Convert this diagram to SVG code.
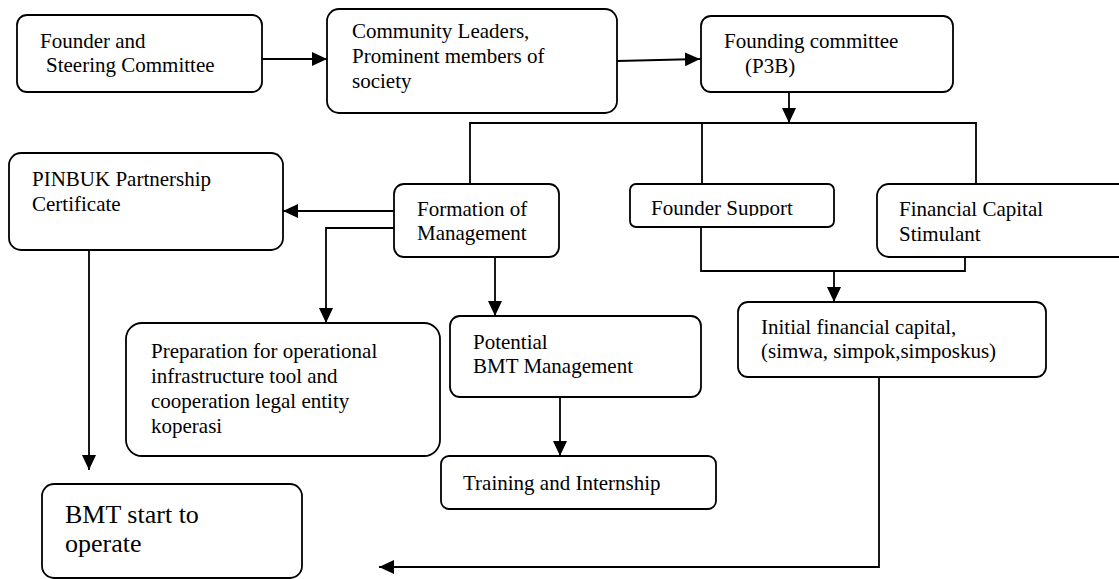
<svg xmlns="http://www.w3.org/2000/svg" width="1119" height="579" viewBox="0 0 1119 579">
<style>
.box{fill:#fff;stroke:#000;stroke-width:1.8}
.t{font-family:"Liberation Serif","Times New Roman",serif;font-size:21px;fill:#000}
.big{font-size:26px}
.c{fill:none;stroke:#000;stroke-width:1.8}
</style>
<defs>
<marker id="ah" markerUnits="userSpaceOnUse" markerWidth="16" markerHeight="16" refX="15" refY="7" orient="auto">
<path d="M0,0 L15,7 L0,14 z" fill="#000"/>
</marker>
<clipPath id="fsclip"><rect x="630" y="184" width="204" height="32"/></clipPath>
</defs>
<rect width="1119" height="579" fill="#fff"/>
<g id="connectors">
<path class="c" d="M262,59 L327,59" marker-end="url(#ah)"/>
<path class="c" d="M617,61 L700,59" marker-end="url(#ah)"/>
<path class="c" d="M789,92 L789,123" marker-end="url(#ah)"/>
<path class="c" d="M470,184 V123 H976 V184 M702,123 V184"/>
<path class="c" d="M394,211 L283,211" marker-end="url(#ah)"/>
<path class="c" d="M394,228 L326,228 L326,323" marker-end="url(#ah)"/>
<path class="c" d="M495,257 L495,316" marker-end="url(#ah)"/>
<path class="c" d="M89,250 L89,470" marker-end="url(#ah)"/>
<path class="c" d="M560,397 L560,456" marker-end="url(#ah)"/>
<path class="c" d="M701,227 V271 H965 V257"/>
<path class="c" d="M834,271 V302" marker-end="url(#ah)"/>
<path class="c" d="M879,377 V567 H379" marker-end="url(#ah)"/>
</g>
<g id="founder">
<rect class="box" x="17" y="15" width="245" height="77" rx="10"/>
<text class="t" x="40" y="48">Founder and</text>
<text class="t" x="46" y="72">Steering Committee</text>
</g>
<g id="community">
<rect class="box" x="327" y="9" width="290" height="104" rx="12"/>
<text class="t" x="352" y="38">Community Leaders,</text>
<text class="t" x="352" y="63">Prominent members of</text>
<text class="t" x="352" y="88">society</text>
</g>
<g id="founding">
<rect class="box" x="701" y="16" width="252" height="76" rx="10"/>
<text class="t" x="724" y="48">Founding committee</text>
<text class="t" x="745" y="73">(P3B)</text>
</g>
<g id="pinbuk">
<rect class="box" x="9" y="153" width="274" height="97" rx="12"/>
<text class="t" x="32" y="186">PINBUK Partnership</text>
<text class="t" x="32" y="211">Certificate</text>
</g>
<g id="formation">
<rect class="box" x="394" y="184" width="165" height="73" rx="10"/>
<text class="t" x="417" y="216">Formation of</text>
<text class="t" x="417" y="240">Management</text>
</g>
<g id="founder-support">
<rect class="box" x="630" y="184" width="204" height="43" rx="6"/>
<text class="t" x="651" y="215" clip-path="url(#fsclip)">Founder Support</text>
</g>
<g id="financial">
<path class="box" d="M1125,184 H889 A12,12 0 0 0 877,196 V245 A12,12 0 0 0 889,257 H1125"/>
<text class="t" x="899" y="216">Financial Capital</text>
<text class="t" x="899" y="241">Stimulant</text>
</g>
<g id="initial">
<rect class="box" x="738" y="302" width="308" height="75" rx="10"/>
<text class="t" x="761" y="334">Initial financial capital,</text>
<text class="t" x="761" y="358">(simwa, simpok,simposkus)</text>
</g>
<g id="preparation">
<rect class="box" x="126" y="323" width="314" height="133" rx="16"/>
<text class="t" x="151" y="358">Preparation for operational</text>
<text class="t" x="151" y="383">infrastructure tool and</text>
<text class="t" x="151" y="408">cooperation legal entity</text>
<text class="t" x="151" y="433">koperasi</text>
</g>
<g id="potential">
<rect class="box" x="450" y="316" width="251" height="81" rx="10"/>
<text class="t" x="473" y="349">Potential</text>
<text class="t" x="473" y="373">BMT Management</text>
</g>
<g id="training">
<rect class="box" x="441" y="456" width="275" height="53" rx="8"/>
<text class="t" x="463" y="490">Training and Internship</text>
</g>
<g id="bmt">
<rect class="box" x="42" y="484" width="260" height="94" rx="12"/>
<text class="t big" x="65" y="523">BMT start to</text>
<text class="t big" x="65" y="552">operate</text>
</g>
</svg>
